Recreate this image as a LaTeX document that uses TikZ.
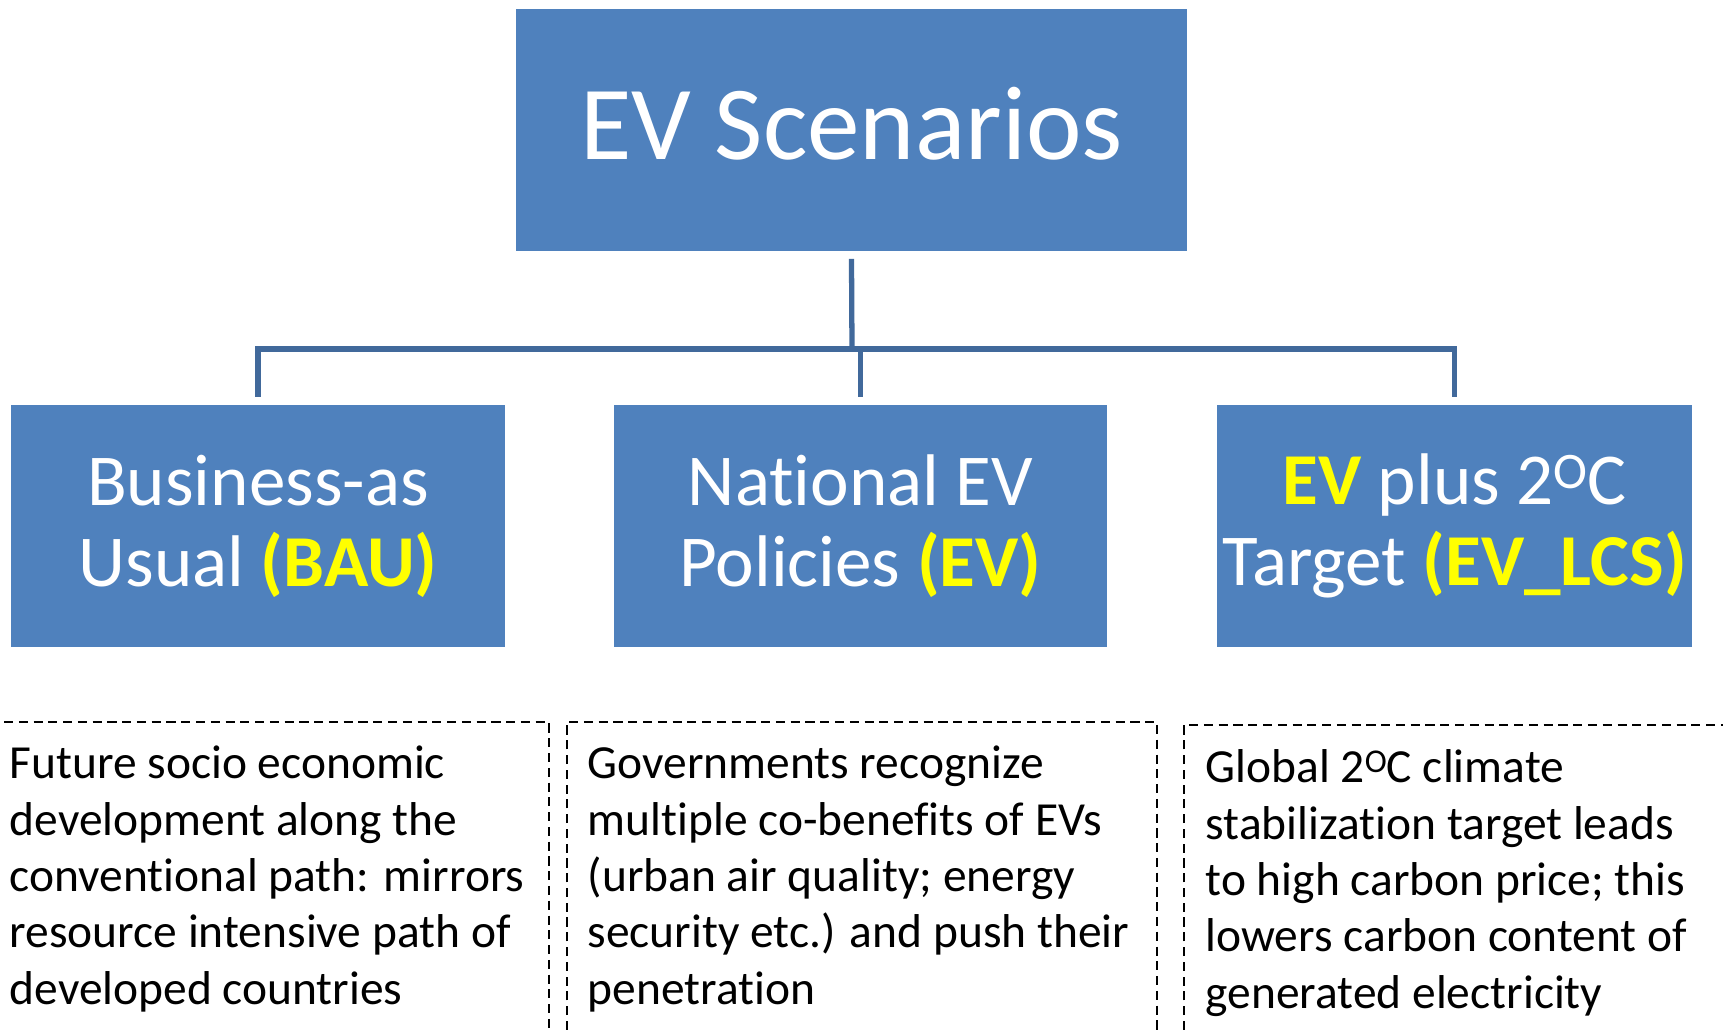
\documentclass[tikz,border=0pt]{standalone}
\usepackage{fontspec}
\setmainfont{Carlito}[Ligatures=NoCommon]
\usepackage{tikz}
\usetikzlibrary{shapes.geometric,arrows,fit,positioning}
\definecolor{boxblue}{HTML}{4F81BD}
\definecolor{lineblue}{HTML}{41699B}
\definecolor{tagyellow}{HTML}{FFFF00}
\newcommand{\hilite}[1]{{\bfseries\color{tagyellow}#1}}
\newcommand{\supO}{\raisebox{0.22em}{\scalebox{0.7}{O}}}
\tikzset{
  scen/.style={rectangle, fill=boxblue, draw=white, line width=0.5pt,
    text=white, align=center, inner sep=0pt, minimum height=2.44cm,
    font=\fontsize{20.8}{23}\selectfont},
  conn/.style={draw=lineblue, line width=1.5pt},
  note/.style={anchor=base west, align=left, inner sep=0pt,
    font=\fontsize{13.5}{16}\selectfont},
  frame/.style={draw=black, line width=0.45pt, dash pattern=on 2.6pt off 1.6pt}
}
\begin{document}
\begin{tikzpicture}[x=0.01cm,y=-0.01cm]
%
\useasboundingbox (0,0) rectangle (1723,1030);
%
\node[scen, minimum width=6.73cm, font=\fontsize{29.9}{36}\selectfont,
  text height=22.4pt, text depth=5.4pt] (top) at (851.5,130) {EV Scenarios};
%
\node[scen, minimum width=4.96cm] (bau) at (258,526) {Business-as\\Usual \hilite{(BAU)}};
\node[scen, minimum width=4.95cm] (ev) at (860.5,526) {National EV\\Policies \hilite{(EV)}};
\node[scen, minimum width=4.77cm] (lcs) at (1454.5,526) {\hilite{EV} plus 2\supO C\\Target \hilite{(EV\_LCS)}};
%
\coordinate (hub) at (852,349);
\draw[conn] ([yshift=-0.06cm]top.south) -- (hub);
\foreach \n in {bau,ev,lcs}
  \draw[conn] (hub) -| ([yshift=0.06cm]\n.north);
%
\draw[frame] (4,722) -- (549,722) -- (549,1030);
\draw[frame] (567,1030) -- (567,722) -- (1157,722) -- (1157,1030);
\draw[frame] (1184,1030) -- (1184,725) -- (1723,725);
%
% base anchor sits on the last line here
\node[note] (bautxt) at (9,1004) {Future socio economic\\development along the\\conventional path: mirrors\\resource intensive path of\\developed countries};
\node[note] (evtxt) at (587,1004) {Governments recognize\\multiple co-benefits of EVs\\(urban air quality; energy\\security etc.) and push their\\penetration};
\node[note] (lcstxt) at (1205,1008) {Global 2\supO C climate\\stabilization target leads\\to high carbon price; this\\lowers carbon content of\\generated electricity};
%
\end{tikzpicture}
\end{document}
